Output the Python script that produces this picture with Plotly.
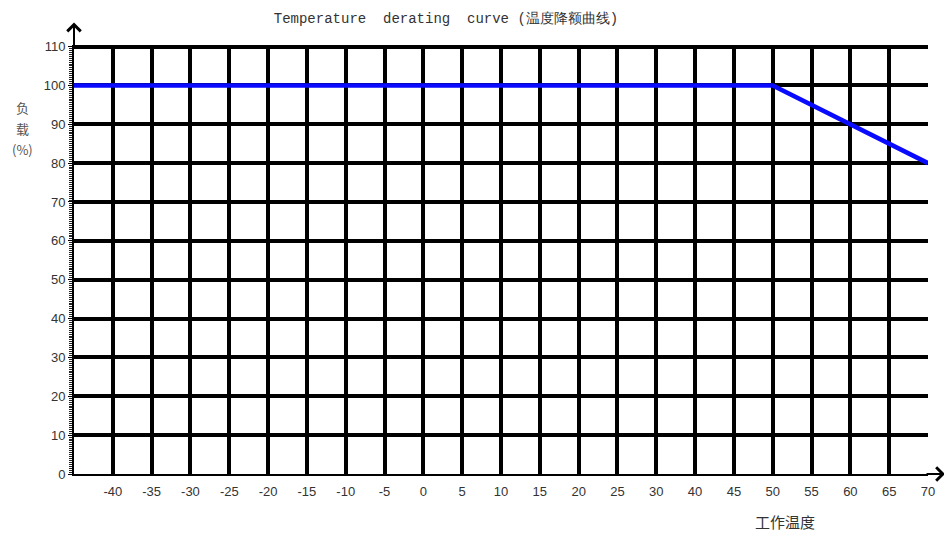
import plotly.graph_objects as go

# ---- data ----
temp_labels = ["-40", "-35", "-30", "-25", "-20", "-15", "-10", "-5", "0", "5",
               "10", "15", "20", "25", "30", "40", "45", "50", "55", "60", "65", "70"]
load_ticks = [0, 10, 20, 30, 40, 50, 60, 70, 80, 90, 100, 110]
curve_temp = ["-40", "50", "70"]
curve_load = [100, 100, 80]

title_text = "Temperature\u00a0\u00a0derating\u00a0\u00a0curve\u00a0(温度降额曲线)"
x_title = "工作温度"
y_title_lines = ["负", "载", "(%)"]

idx = {t: i for i, t in enumerate(temp_labels)}
x_lo, x_hi = -1, len(temp_labels) - 1

line_x = [idx[t] for t in curve_temp]
line_x[0] = x_lo - 0.1  # flat section runs in from the left edge

# the page body has an 8px default margin
OFF = 8
Y_TOP = 110.4                      # a little headroom so the 110 grid line is drawn
UNIT = (474 - 47) / 110            # px per load unit
PH = UNIT * Y_TOP
W, H = 952 - OFF, 533 - OFF
PW = 952 - 74 - 24
L, R, B = 74 - OFF, 24, 59
T = (474 - PH) - OFF

fig = go.Figure()
fig.add_trace(go.Scatter(
    x=line_x, y=curve_load, mode="lines",
    line=dict(color="#0a0aff", width=4.5),
    cliponaxis=False, showlegend=False, hoverinfo="skip"))

fig.update_layout(
    width=W, height=H,
    margin=dict(l=L, r=R, t=T, b=B, autoexpand=False),
    paper_bgcolor="white", plot_bgcolor="white",
    title=dict(text=title_text, x=(446 - OFF) / W, xanchor="center", xref="container",
               y=1 - (18 - OFF) / H, yanchor="middle", yref="container",
               font=dict(family="Liberation Mono", size=14, color="#333333")),
    xaxis=dict(range=[x_lo, x_hi], tickmode="array",
               tickvals=list(range(len(temp_labels))), ticktext=temp_labels,
               showgrid=True, gridcolor="black", gridwidth=3.5,
               zeroline=False, showline=True, linecolor="black", linewidth=2,
               ticks="", tickfont=dict(family="Liberation Sans", size=13, color="#333333"),
               ticklabelstandoff=4),
    yaxis=dict(range=[0, Y_TOP], tickmode="linear", tick0=0, dtick=10,
               showgrid=True, gridcolor="black", gridwidth=3.5,
               zeroline=False, showline=True, linecolor="black", linewidth=2,
               ticks="outside", ticklen=4, tickwidth=1, tickcolor="black",
               minor=dict(tick0=0, dtick=0.5, ticks="outside", ticklen=3, tickwidth=1,
                          tickcolor="#222222", showgrid=False),
               tickfont=dict(family="Liberation Sans", size=13, color="#333333")),
)

# axis arrows (tip positions relative to the 110 line / right end)
y110 = 110 / Y_TOP
fig.add_annotation(xref="paper", yref="paper", x=0, y=y110 + 24 / PH, ax=0, ay=25,
                   showarrow=True, arrowhead=4, arrowsize=1.3, arrowwidth=2,
                   arrowcolor="black", text="")
fig.add_annotation(xref="paper", yref="paper", x=1 + 17 / PW, y=0, ax=-20, ay=0,
                   showarrow=True, arrowhead=4, arrowsize=1.3, arrowwidth=2,
                   arrowcolor="black", text="")

# axis titles
for txt, py in zip(y_title_lines, [108, 129, 150]):
    fig.add_annotation(xref="paper", yref="paper", x=(22 - 74) / PW, y=(474 - py) / PH,
                       text=txt, showarrow=False, xanchor="center", yanchor="middle",
                       font=dict(family="Noto Sans CJK SC", size=13, color="#555555"))
fig.add_annotation(xref="paper", yref="paper", x=(785 - 74) / PW, y=(474 - 521) / PH,
                   text=x_title, showarrow=False, xanchor="center", yanchor="middle",
                   font=dict(family="Noto Sans CJK SC", size=15, color="#333333"))

fig.write_html("out.html")
